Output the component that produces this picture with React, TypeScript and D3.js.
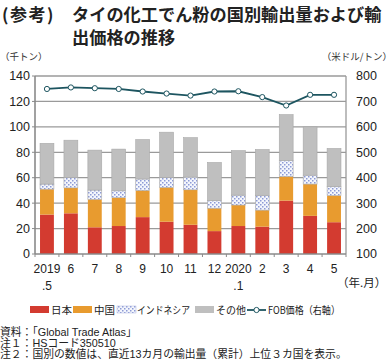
import React from "react";
import * as d3 from "d3";

// 月ラベル(2行目は年の区切りのみ)
const months = ["2019", "6", "7", "8", "9", "10", "11", "12", "2020", "2", "3", "4", "5"];
const months2 = [".5", "", "", "", "", "", "", "", ".1", "", "", "", ""];

// 国別輸出量(千トン)
const japan = [31, 32, 21, 22, 29, 25.4, 23, 18, 22, 21.5, 42, 30, 25];
const china = [20, 20, 22, 22.3, 21, 27, 27.5, 18, 16.5, 13, 19, 25, 21];
const indonesia = [4, 8, 7.3, 5.4, 9, 7.8, 10, 6, 7.8, 11.7, 12.6, 7, 7];
const others = [32, 29.5, 31.4, 32.8, 31, 35.6, 31, 30, 35, 36, 36, 38, 30];

// FOB価格(米ドル/トン)
const fob = [749, 755, 752, 749, 739, 731, 723, 739, 740, 717, 684, 726, 726];

const leftTicks = [0, 20, 40, 60, 80, 100, 120, 140];
const rightTicks = [100, 200, 300, 400, 500, 600, 700, 800];

const seriesNames = ["日本", "中国", "インドネシア", "その他"];
const seriesColors = ["#d33b30", "#e89b2f", "url(#indo)", "#bfbfbf"];

const W = 392;
const H = 364;
const margin = { top: 76, right: 46, bottom: 110, left: 35 };

const App: React.FC = () => {
  const x = d3
    .scaleBand<string>()
    .domain(months)
    .range([margin.left, W - margin.right])
    .paddingInner(0.42)
    .paddingOuter(0.21);

  const y = d3.scaleLinear().domain([0, 140]).range([H - margin.bottom, margin.top]);
  const y2 = d3.scaleLinear().domain([100, 800]).range([H - margin.bottom, margin.top]);

  const rows = months.map((m, i) => ({
    m,
    v: [japan[i], china[i], indonesia[i], others[i]],
  }));
  const stack = d3.stack<any, number>().keys([0, 1, 2, 3]).value((d, k) => d.v[k]);
  const stacked = stack(rows);

  const cx = (i: number) => (x(months[i]) ?? 0) + x.bandwidth() / 2;
  const line = d3
    .line<number>()
    .x((_, i) => cx(i))
    .y((d) => y2(d));

  const step = x.step();
  const font = "'Liberation Sans', Arial, 'Noto Sans CJK JP', sans-serif";
  const jp = "'Noto Sans CJK JP', sans-serif";
  const x0 = margin.left;
  const x1 = W - margin.right;
  const yb = y(0);
  const yt = y(140);

  const legend = [
    { kind: "rect", fill: seriesColors[0], label: seriesNames[0], sx: 30, tx: 51, w: 21 },
    { kind: "rect", fill: seriesColors[1], label: seriesNames[1], sx: 73, tx: 94, w: 21 },
    { kind: "rect", fill: seriesColors[2], label: seriesNames[2], sx: 117, tx: 137, w: 53 },
    { kind: "rect", fill: seriesColors[3], label: seriesNames[3], sx: 195, tx: 216, w: 30 },
    { kind: "line", fill: "#1d5560", label: "FOB価格（右軸）", sx: 247, tx: 268, w: 72 },
  ];

  return (
    <svg
      width={W}
      height={H}
      style={{ position: "absolute", left: 0, top: 0, background: "#fff" }}
    >
      <defs>
        <pattern id="indo" width="4" height="4" patternUnits="userSpaceOnUse">
          <rect width="4" height="4" fill="#f4f6fc" />
          <rect x="0" y="0" width="1.5" height="1.5" fill="#8d9ad6" />
          <rect x="2" y="2" width="1.5" height="1.5" fill="#8d9ad6" />
        </pattern>
      </defs>

      {/* タイトル */}
      <text x={2} y={21} fontFamily={jp} fontWeight="bold" fontSize={17} letterSpacing={1.5} fill="#222">
        (参考)
      </text>
      <text x={72} y={21} fontFamily={jp} fontWeight="bold" fontSize={17.2} fill="#222">
        タイの化工でん粉の国別輸出量および輸
      </text>
      <text x={72} y={44} fontFamily={jp} fontWeight="bold" fontSize={17.2} fill="#222">
        出価格の推移
      </text>

      <text x={0} y={60} fontFamily={jp} fontSize={9.5} fill="#333">
        （千トン）
      </text>
      <text x={392} y={60} textAnchor="end" fontFamily={jp} fontSize={9.5} fill="#333">
        （米ドル/トン）
      </text>

      {/* グリッド */}
      {leftTicks.slice(1, -1).map((t) => (
        <line key={t} x1={x0} x2={x1} y1={y(t)} y2={y(t)} stroke="#9a9a9a" strokeWidth={1.3} />
      ))}

      {/* 棒 */}
      {stacked.map((s, si) => (
        <g key={si}>
          {s.map((d, i) => (
            <rect
              key={i}
              x={x(months[i])}
              width={x.bandwidth()}
              y={y(d[1])}
              height={y(d[0]) - y(d[1])}
              fill={seriesColors[si]}
              stroke={si >= 2 ? "#a8a8a8" : "none"}
              strokeWidth={0.6}
            />
          ))}
        </g>
      ))}

      {/* 枠と軸 */}
      <line x1={x0} x2={x1} y1={yt} y2={yt} stroke="#9a9a9a" strokeWidth={1.3} />
      <line x1={x1} x2={x1} y1={yt} y2={yb} stroke="#9a9a9a" strokeWidth={1.3} />
      <line x1={x0} x2={x0} y1={yt} y2={yb} stroke="#8a8a8a" strokeWidth={1.6} />
      <line x1={x0} x2={x1} y1={yb} y2={yb} stroke="#8a8a8a" strokeWidth={1.6} />
      {leftTicks.map((t) => (
        <line key={t} x1={x0 - 3} x2={x0} y1={y(t)} y2={y(t)} stroke="#8a8a8a" strokeWidth={1} />
      ))}
      {d3.range(months.length + 1).map((i) => (
        <line
          key={i}
          x1={x0 + i * step}
          x2={x0 + i * step}
          y1={yb}
          y2={yb + 3}
          stroke="#8a8a8a"
          strokeWidth={1}
        />
      ))}

      {leftTicks.map((t) => (
        <text
          key={t}
          x={30}
          y={y(t)}
          dy="0.35em"
          textAnchor="end"
          fontFamily={font}
          fontSize={12.5}
          fill="#222"
        >
          {t}
        </text>
      ))}
      {rightTicks.map((t) => (
        <text key={t} x={356} y={y2(t)} dy="0.35em" fontFamily={font} fontSize={12.5} fill="#222">
          {t}
        </text>
      ))}

      {/* FOB価格 */}
      <path d={line(fob) ?? ""} fill="none" stroke="#1d5560" strokeWidth={1.8} />
      {fob.map((v, i) => (
        <circle key={i} cx={cx(i)} cy={y2(v)} r={2.6} fill="#fff" stroke="#1d5560" strokeWidth={1} />
      ))}

      {/* X軸ラベル */}
      {months.map((m, i) => (
        <g key={m}>
          <text x={cx(i)} y={273} textAnchor="middle" fontFamily={font} fontSize={12} fill="#222">
            {m}
          </text>
          <text x={cx(i)} y={290} textAnchor="middle" fontFamily={font} fontSize={12} fill="#222">
            {months2[i]}
          </text>
        </g>
      ))}
      <text x={337} y={287} fontFamily={jp} fontSize={11.5} fill="#222">
        （年.月）
      </text>

      {/* 凡例 */}
      {legend.map((l) => (
        <g key={l.label}>
          {l.kind === "rect" ? (
            <rect
              x={l.sx}
              y={306}
              width={19}
              height={7}
              fill={l.fill}
              stroke={l.fill.startsWith("url") ? "#b0b8e0" : "none"}
              strokeWidth={0.5}
            />
          ) : (
            <g>
              <line x1={l.sx} x2={l.sx + 19} y1={310} y2={310} stroke={l.fill} strokeWidth={1.8} />
              <circle cx={l.sx + 9.5} cy={310} r={2.6} fill="#fff" stroke={l.fill} strokeWidth={1} />
            </g>
          )}
          <text
            x={l.tx}
            y={314}
            fontFamily={jp}
            fontSize={10.5}
            textLength={l.w}
            lengthAdjust="spacingAndGlyphs"
            fill="#222"
          >
            {l.label}
          </text>
        </g>
      ))}

      {/* 注記 */}
      <text x={0} y={336} fontFamily={font} fontSize={10.8} fill="#222">
        資料：「Global Trade Atlas」
      </text>
      <text x={0} y={347} fontFamily={font} fontSize={10.8} fill="#222">
        注１：HSコード350510
      </text>
      <text x={0} y={358} fontFamily={font} fontSize={10.8} fill="#222">
        注２：国別の数値は、直近13カ月の輸出量（累計）上位３カ国を表示。
      </text>
    </svg>
  );
};

export default App;
